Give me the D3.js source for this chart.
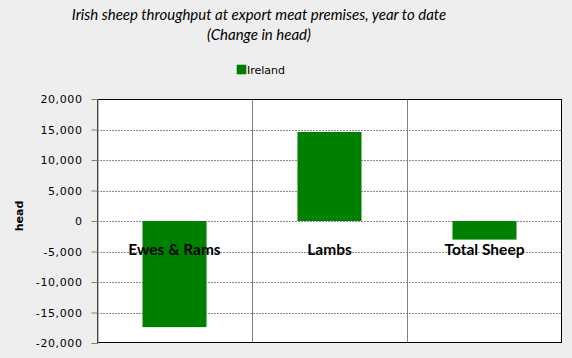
<!DOCTYPE html>
<html><head><meta charset="utf-8">
<script src="https://cdn.jsdelivr.net/npm/d3@7"></script>
<style>
body{margin:0;background:#eeeeee;}
svg{display:block;}
</style></head>
<body>
<svg id="chart" width="572" height="358"></svg>
<script>
const categories = ["Ewes & Rams", "Lambs", "Total Sheep"];
const irelandValues = [-17400, 14600, -3050];
const yTicks = [-20000, -15000, -10000, -5000, 0, 5000, 10000, 15000, 20000];
const titleLines = ["Irish sheep throughput at export meat premises, year to date", "(Change in head)"];
const seriesName = "Ireland";
const yAxisTitle = "head";
const labelValue = -4600;

const svg = d3.select("#chart");
const W = 572, H = 358;
const m = {left: 97, right: 10, top: 99, bottom: 15};
const pw = W - m.left - m.right, ph = H - m.top - m.bottom;

svg.append("rect").attr("width", W).attr("height", H).attr("fill", "#eeeeee");

const x = d3.scaleBand().domain(categories).range([m.left, m.left + pw]).paddingInner(0.587).paddingOuter(0.2935);
const xc = d3.scaleBand().domain(categories).range([m.left, m.left + pw]).padding(0);
const y = d3.scaleLinear().domain([-20000, 20000]).range([m.top + ph, m.top]);

svg.append("rect").attr("x", m.left).attr("y", m.top).attr("width", pw).attr("height", ph).attr("fill", "#ffffff");

// horizontal grid
svg.append("g").selectAll("line").data(yTicks.slice(1, -1)).join("line")
  .attr("x1", m.left).attr("x2", m.left + pw)
  .attr("y1", d => Math.round(y(d)) + 0.5).attr("y2", d => Math.round(y(d)) + 0.5)
  .attr("stroke", "#8c8c8c").attr("stroke-width", 1).attr("stroke-dasharray", "2,1");

// vertical category separators
svg.append("g").selectAll("line").data(categories.slice(1)).join("line")
  .attr("x1", d => Math.round(xc(d)) + 0.5).attr("x2", d => Math.round(xc(d)) + 0.5)
  .attr("y1", m.top).attr("y2", m.top + ph)
  .attr("stroke", "#808080").attr("stroke-width", 1);

// bars
svg.append("g").selectAll("rect").data(categories).join("rect")
  .attr("x", d => x(d)).attr("width", x.bandwidth())
  .attr("y", (d, i) => y(Math.max(0, irelandValues[i])))
  .attr("height", (d, i) => Math.abs(y(irelandValues[i]) - y(0)))
  .attr("fill", "#008000");

// category labels
svg.append("g").selectAll("text").data(categories).join("text")
  .attr("x", d => xc(d) + xc.bandwidth() / 2)
  .attr("y", y(labelValue))
  .attr("text-anchor", "middle").attr("dominant-baseline", "central")
  .attr("font-family", "Lato, 'Open Sans', sans-serif").attr("font-weight", "bold")
  .attr("font-size", 15.5).attr("fill", "#000")
  .text(d => d);

// plot border
svg.append("rect").attr("x", m.left + 0.5).attr("y", m.top + 0.5).attr("width", pw - 1).attr("height", ph - 1)
  .attr("fill", "none").attr("stroke", "#000").attr("stroke-width", 1);

// y axis
const yAxis = d3.axisLeft(y).tickValues(yTicks).tickSize(6).tickPadding(9)
  .tickFormat(d => d3.format(",")(d).replace("−", "-"));
const ga = svg.append("g").attr("transform", `translate(${m.left + 0.5},0)`).call(yAxis);
ga.select(".domain").attr("stroke", "#808080");
ga.selectAll(".tick line").attr("stroke", "#808080");
ga.selectAll(".tick text").attr("font-family", "'DejaVu Sans', Verdana, sans-serif").attr("font-size", 11).attr("letter-spacing", 0.6).attr("fill", "#000");

// y axis title
svg.append("text").attr("transform", `translate(23,216) rotate(-90)`)
  .attr("text-anchor", "middle").attr("font-family", "'DejaVu Sans', Verdana, sans-serif")
  .attr("font-size", 11).attr("font-weight", "bold").attr("fill", "#000").text(yAxisTitle);

// title
svg.append("g").selectAll("text").data(titleLines).join("text")
  .attr("x", 259).attr("y", (d, i) => 20 + i * 20)
  .attr("text-anchor", "middle").attr("font-family", "Lato, 'Open Sans', sans-serif")
  .attr("font-style", "italic").attr("font-size", 15).attr("fill", "#000")
  .text(d => d);

// legend
const lg = svg.append("g");
lg.append("rect").attr("x", 237).attr("y", 65).attr("width", 9).attr("height", 9).attr("fill", "#008000").attr("stroke", "#006000").attr("stroke-width", 0.5);
lg.append("text").attr("x", 247).attr("y", 70).attr("dominant-baseline", "central")
  .attr("font-family", "'DejaVu Sans', Verdana, sans-serif").attr("font-size", 11).attr("fill", "#000").text(seriesName);
</script>
</body></html>
